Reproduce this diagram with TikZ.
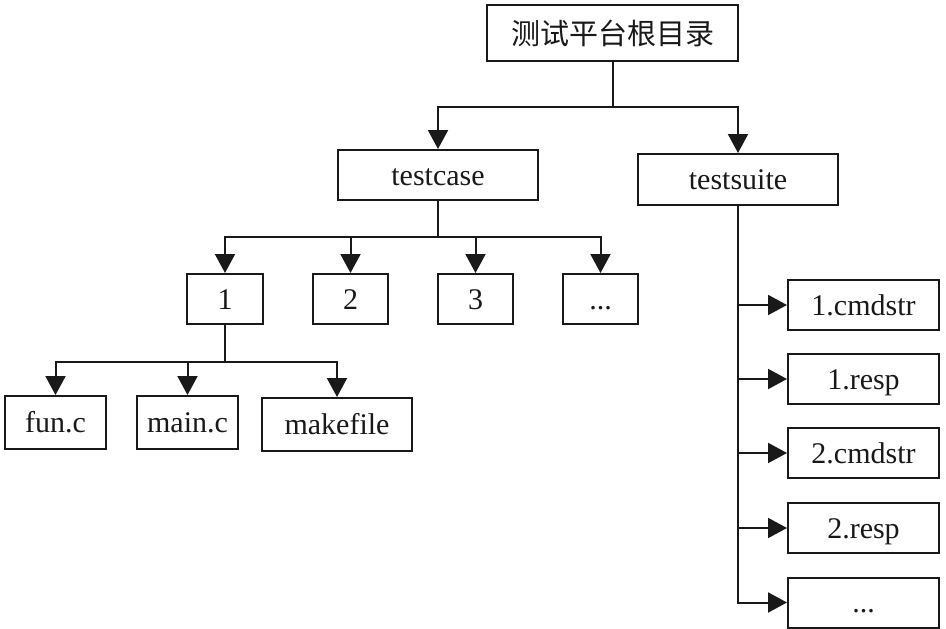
\documentclass[tikz,border=0pt]{standalone}
\usepackage{fontspec}
\setmainfont{Liberation Serif}
\newfontfamily\cjk{Noto Sans CJK SC}
\usetikzlibrary{arrows.meta}
\begin{document}
\begin{tikzpicture}[x=1pt,y=-1pt,
  box/.style={draw=black!90, line width=2pt, inner sep=0pt, font=\fontsize{30}{33}\selectfont, text=black!90, text height=24pt, text depth=4pt},
  conn/.style={draw=black!90, line width=2pt},
  arr/.style={conn, -{Triangle[width=20pt,length=19pt]}}]
\useasboundingbox (0,0) rectangle (946,629);
% nodes
\node[box, minimum width=251pt, minimum height=56pt, text height=25pt, text depth=3pt] (root) at (612.5,33) {\cjk\fontsize{29}{32}\selectfont 测试平台根目录};
\node[box, minimum width=200pt, minimum height=50pt] (tc) at (438,175) {testcase};
\node[box, minimum width=200pt, minimum height=51pt] (ts) at (738,179.5) {testsuite};
\node[box, minimum width=76pt, minimum height=50pt] (n1) at (225,299) {1};
\node[box, minimum width=75pt, minimum height=50pt] (n2) at (350.5,299) {2};
\node[box, minimum width=75pt, minimum height=50pt] (n3) at (475.5,299) {3};
\node[box, minimum width=75pt, minimum height=50pt] (n4) at (600.5,299) {...};
\node[box, minimum width=101pt, minimum height=53pt] (fa) at (55.5,422.5) {fun.c};
\node[box, minimum width=101pt, minimum height=53pt] (fb) at (187.5,422.5) {main.c};
\node[box, minimum width=150pt, minimum height=53pt] (fc) at (337,424.5) {makefile};
\node[box, minimum width=151pt, minimum height=50pt] (s1) at (863.5,305) {1.cmdstr};
\node[box, minimum width=151pt, minimum height=50pt] (s2) at (863.5,379) {1.resp};
\node[box, minimum width=151pt, minimum height=50pt] (s3) at (863.5,453) {2.cmdstr};
\node[box, minimum width=151pt, minimum height=50pt] (s4) at (863.5,528) {2.resp};
\node[box, minimum width=151pt, minimum height=50pt] (s5) at (863.5,602.5) {...};
% junctions
\coordinate (j0) at (612.5,107);
\coordinate (j1) at (438,237);
\coordinate (j2) at (225,362);
% root connectors
\draw[conn] (root.south) -- (j0);
\draw[arr] (j0) -| (tc.north);
\draw[arr] (j0) -| (ts.north);
% testcase connectors
\draw[conn] (tc.south) -- (j1);
\draw[arr] (j1) -| (n1.north);
\draw[arr] (j1) -| (n2.north);
\draw[arr] (j1) -| (n3.north);
\draw[arr] (j1) -| (n4.north);
% 1 connectors
\draw[conn] (n1.south) -- (j2);
\draw[arr] (j2) -| (fa.north);
\draw[arr] (j2) -| (fb.north);
\draw[arr] (j2) -| (fc.north);
% testsuite connectors
\draw[arr] (ts.south) |- (s5.west);
\draw[arr] (ts.south |- s1.west) -- (s1.west);
\draw[arr] (ts.south |- s2.west) -- (s2.west);
\draw[arr] (ts.south |- s3.west) -- (s3.west);
\draw[arr] (ts.south |- s4.west) -- (s4.west);
\end{tikzpicture}
\end{document}
